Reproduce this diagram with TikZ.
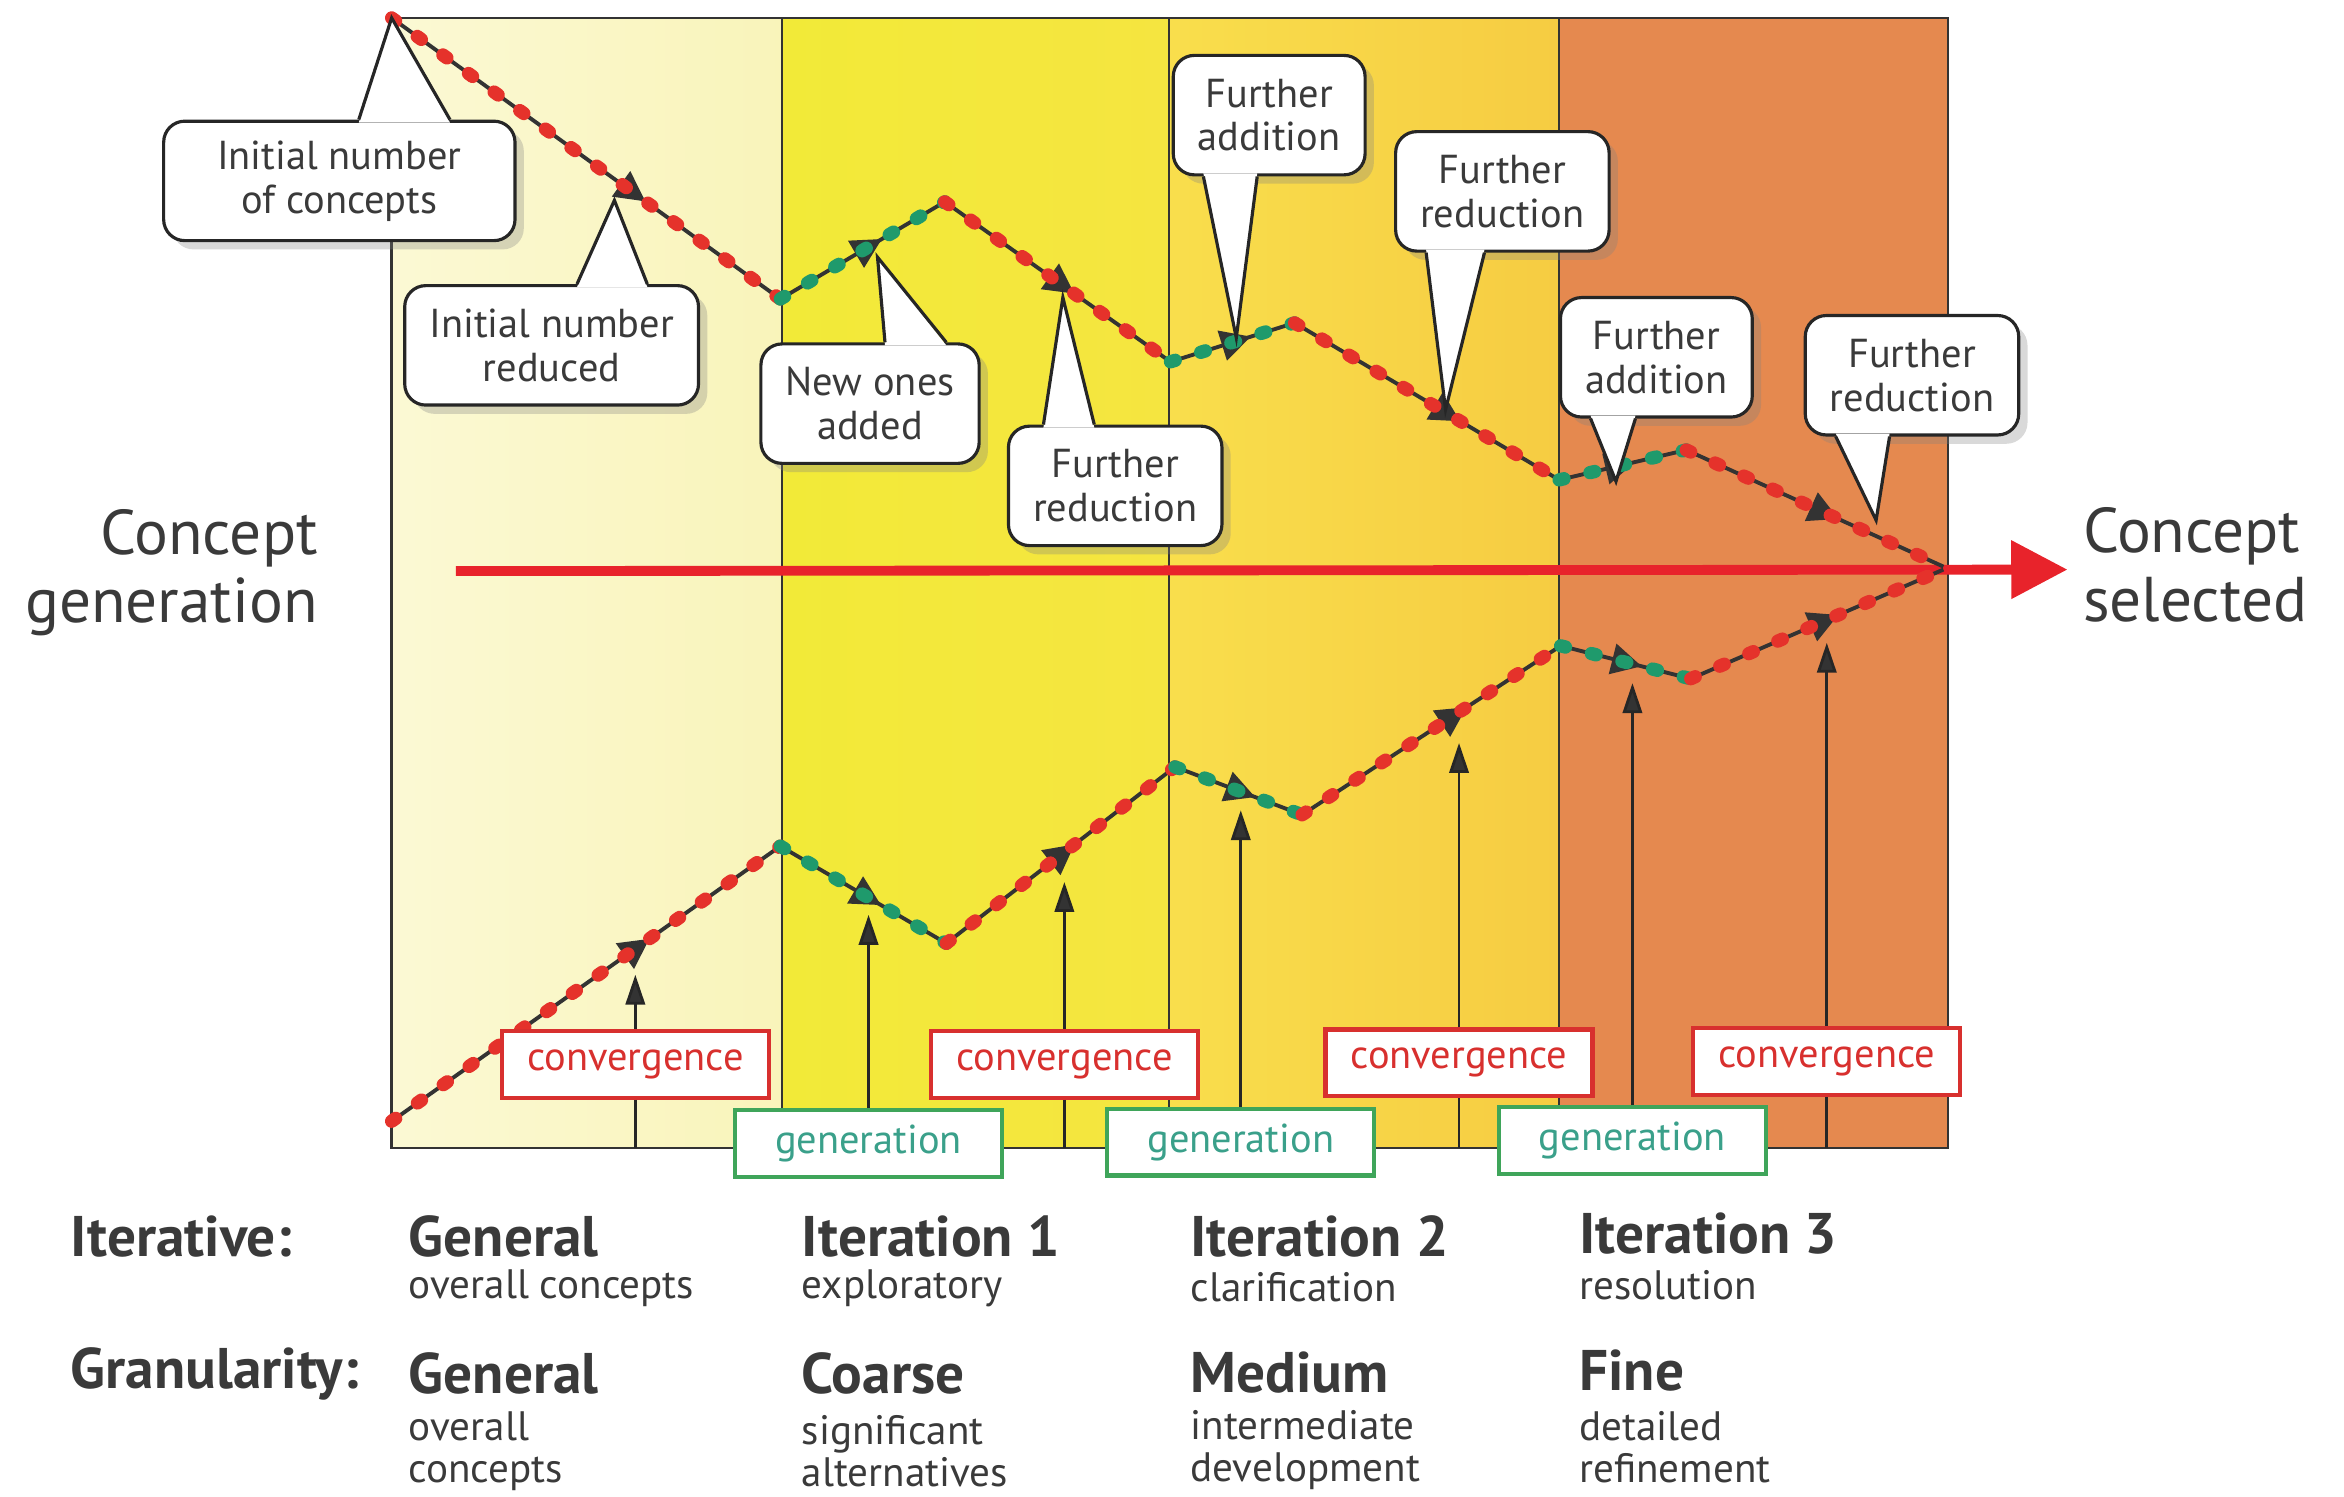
\documentclass[tikz,border=0pt]{standalone}
\usepackage{fontspec}
\setmainfont{PT Sans}
\usetikzlibrary{arrows.meta,calc,shapes.geometric,shadows}

\definecolor{colAl}{HTML}{FBF9D4}
\definecolor{colAr}{HTML}{F9F4BA}
\definecolor{colBl}{HTML}{F2EA38}
\definecolor{colBr}{HTML}{F5E540}
\definecolor{colCl}{HTML}{F9DE4C}
\definecolor{colCr}{HTML}{F6CC42}
\definecolor{colD}{HTML}{E5894F}
\definecolor{beadred}{HTML}{E5322B}
\definecolor{beadgreen}{HTML}{1F9A6C}
\definecolor{convred}{HTML}{D8302E}
\definecolor{gengreen}{HTML}{3FA55A}
\definecolor{gentext}{HTML}{3AA08A}
\definecolor{txtgray}{HTML}{3A3A3A}
\definecolor{markgray}{HTML}{333333}
\definecolor{arrowred}{HTML}{E8232B}

\begin{document}
\begin{tikzpicture}[x=0.01495cm, y=-0.01495cm,
    frame/.style = {draw=black!80, line width=0.7pt},
    mainarrow/.style = {draw=arrowred, line width=2.8pt,
                        -{Triangle[length=16pt, width=16pt]}},
    beadline/.style = {draw=black!80, line width=1.1pt},
    beads/.style = {draw=#1, line width=3.8pt, line cap=round,
                    dash pattern=on 1.4pt off 7.6pt},
    tri/.style = {isosceles triangle, isosceles triangle stretches,
                  fill=markgray, inner sep=0pt, minimum width=9pt,
                  minimum height=8.5pt, sloped},
    bubble/.style = {draw=black!85, fill=white, rounded corners=6pt,
                     line width=0.9pt, align=center, text=txtgray,
                     font=\fontsize{11.5}{12.5}\selectfont,
                     inner xsep=7pt, minimum height=34pt,
                     drop shadow={opacity=0.3}},
    pointer/.style = {draw=black!85, line width=0.9pt},
    convbox/.style = {draw=convred, fill=white, line width=1.2pt,
                      text=convred, font=\fontsize{11.5}{12}\selectfont,
                      minimum width=76pt, minimum height=19pt, inner sep=1pt},
    genbox/.style = {draw=gengreen, fill=white, line width=1.2pt,
                     text=gentext, font=\fontsize{11.5}{12}\selectfont,
                     minimum width=76pt, minimum height=19pt, inner sep=1pt},
    uparrow/.style = {draw=black!85, line width=0.8pt,
                      -{Triangle[length=8.5pt, width=5.5pt, fill=markgray]}},
    stem/.style = {draw=black!85, line width=0.8pt},
    bigtext/.style = {text=txtgray, font=\fontsize{18}{19.5}\selectfont, inner sep=0pt},
    rowhead/.style = {anchor=west, inner sep=0pt, text=txtgray,
                      font=\bfseries\fontsize{16.3}{20}\selectfont},
    subtext/.style = {anchor=west, inner sep=0pt, text=txtgray, align=left,
                      font=\fontsize{11.7}{12}\selectfont}]
\useasboundingbox (0,0) rectangle (1568,1001);

% columns
\shade[left color=colAl, right color=colAr] (262,12) rectangle (523,768);
\shade[left color=colBl, right color=colBr] (523,12) rectangle (782,768);
\shade[left color=colCl, right color=colCr] (782,12) rectangle (1043,768);
\fill[colD] (1043,12) rectangle (1303,768);
\draw[frame] (262,12) rectangle (1303,768);
\coordinate (pbot) at (262,768);
\foreach \x in {523,782,1043}
  \draw[frame] (\x,12) -- (\x,768);

% main arrow
\coordinate (astart) at (305,382);
\coordinate (aend) at (1383,381);
\draw[mainarrow] (astart) -- (aend);

% upper path
\coordinate (u0) at (262,12);
\coordinate (u1) at (522,200);
\coordinate (u2) at (632,135);
\coordinate (u3) at (783,242);
\coordinate (u4) at (866,216);
\coordinate (u5) at (1043,321);
\coordinate (u6) at (1128,301);
\coordinate (u7) at (1300,379);
% lower path
\coordinate (l0) at (262,750);
\coordinate (l1) at (522,566);
\coordinate (l2) at (633,631);
\coordinate (l3) at (786,513);
\coordinate (l4) at (871,545);
\coordinate (l5) at (1044,432);
\coordinate (l6) at (1131,454);
\coordinate (l7) at (1300,381);

\foreach \a/\b/\p/\c in {u0/u1/.61/beadred, u1/u2/.51/beadgreen,
    u2/u3/.50/beadred, u3/u4/.49/beadgreen, u4/u5/.56/beadred,
    u5/u6/.44/beadgreen, u6/u7/.52/beadred,
    l0/l1/.62/beadred, l1/l2/.50/beadgreen, l2/l3/.49/beadred,
    l3/l4/.48/beadgreen, l4/l5/.57/beadred, l5/l6/.47/beadgreen,
    l6/l7/.51/beadred} {
  \draw[beadline] (\a) -- (\b);
  \path (\a) -- (\b) node[tri, pos=\p] {};
  \draw[beads=\c] (\a) -- (\b);
}

% convergence / generation boxes
\node[convbox] (convA) at (425,712) {convergence};
\node[genbox]  (genA)  at (581,765) {generation};
\node[convbox] (convB) at (712,712) {convergence};
\node[genbox]  (genB)  at (830,764) {generation};
\node[convbox] (convC) at (976,711) {convergence};
\node[genbox]  (genC)  at (1092,763) {generation};
\node[convbox] (convD) at (1222,710) {convergence};

\coordinate (tA) at (425,652);
\coordinate (tB) at (581,612);
\coordinate (tC) at (712,590);
\coordinate (tD) at (830,542);
\coordinate (tE) at (976,497);
\coordinate (tF) at (1092,457);
\coordinate (tG) at (1222,430);
\foreach \n/\t in {convA/tA, genA/tB, convB/tC, genB/tD, convC/tE, genC/tF, convD/tG}
  \draw[uparrow] (\n) -- (\t);
\foreach \n in {convA, convB, convC, convD}
  \draw[stem] (\n) -- (\n |- pbot);

% callouts
\node[bubble, minimum width=100pt] (initnum) at (227,121) {Initial number\\of concepts};
\node[bubble] (initred) at (369,231) {Initial number\\reduced};
\node[bubble] (newones) at (582,270) {New ones\\added};
\node[bubble] (redA) at (746,325) {Further\\reduction};
\node[bubble] (addA) at (849,77) {Further\\addition};
\node[bubble] (redB) at (1005,128) {Further\\reduction};
\node[bubble] (addB) at (1108,239) {Further\\addition};
\node[bubble] (redC) at (1279,251) {Further\\reduction};

\coordinate (pB) at (411,134);
\coordinate (pC) at (587,172);
\coordinate (pD) at (711,199);
\coordinate (pE) at (827,226);
\coordinate (pF) at (967,274);
\coordinate (pG) at (1081,322);
\coordinate (pH) at (1255,348);

\foreach \n/\s/\a/\b/\t/\d in {initnum/north/13/74/u0/2, initred/north/17/64/pB/2,
    newones/north/10/51/pC/2, redA/north/-48/-14/pD/2,
    addA/south/-44/-8/pE/-2, redB/south/-51/-12/pF/-2,
    addB/south/-44/-14/pG/-2, redC/south/-51/-15/pH/-2} {
  \fill[white] ($(\n.\s)+(\a,\d)$) -- (\t) -- ($(\n.\s)+(\b,\d)$) -- cycle;
  \draw[pointer] ($(\n.\s)+(\a,0)$) -- (\t) -- ($(\n.\s)+(\b,0)$);
}

% side labels
\node[bigtext, anchor=east, align=right] (cgen) at (213,383) {Concept\\generation};
\node[bigtext, anchor=west, align=left] (csel) at (1393,378) {Concept\\selected};

% bottom table
\node[rowhead] (iter) at (47,827) {Iterative:};
\node[rowhead] (gran) at (47,919) {Granularity:};
\node[rowhead] (itA) at (273,827) {General};
\node[rowhead] (itB) at (536,827) {Iteration 1};
\node[rowhead] (itC) at (796,827) {Iteration 2};
\node[rowhead] (itD) at (1056,825) {Iteration 3};
\node[subtext] (itsA) at (273,862) {overall concepts};
\node[subtext] (itsB) at (536,862) {exploratory};
\node[subtext] (itsC) at (796,861) {clarification};
\node[subtext] (itsD) at (1056,860) {resolution};
\node[rowhead] (grA) at (273,919) {General};
\node[rowhead] (grB) at (536,919) {Coarse};
\node[rowhead] (grC) at (796,918) {Medium};
\node[rowhead] (grD) at (1056,917) {Fine};
\node[subtext] (grsA) at (273,971) {overall\\concepts};
\node[subtext] (grsB) at (536,971) {significant\\alternatives};
\node[subtext] (grsC) at (796,970) {intermediate\\development};
\node[subtext] (grsD) at (1056,968) {detailed\\refinement};
\end{tikzpicture}
\end{document}
